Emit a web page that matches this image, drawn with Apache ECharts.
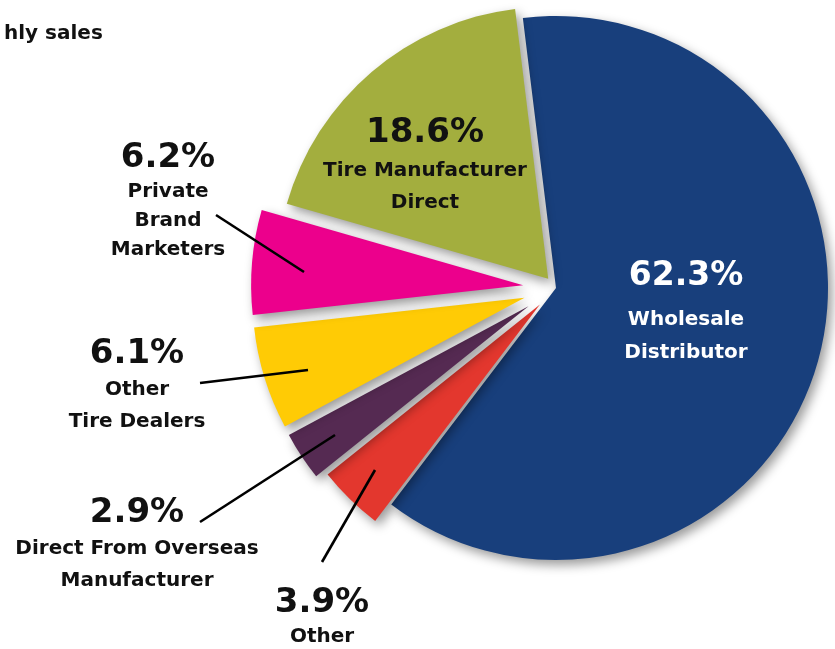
<!DOCTYPE html>
<html>
<head>
<meta charset="utf-8">
<title>Monthly sales by channel</title>
<script src="https://cdn.jsdelivr.net/npm/echarts@6/dist/echarts.min.js"></script>
<style>
  html, body { margin: 0; padding: 0; background: #ffffff; }
  #chart { width: 835px; height: 649px; }
</style>
</head>
<body>
<div id="chart"></div>
<script>
// Channel shares (percent of monthly sales), clockwise from 12 o'clock
const categories = [
  'Wholesale\nDistributor',
  'Other',
  'Direct From Overseas\nManufacturer',
  'Other\nTire Dealers',
  'Private\nBrand\nMarketers',
  'Tire Manufacturer\nDirect'
];
const shares = [62.3, 3.9, 2.9, 6.1, 6.2, 18.6];

// Slice colours
const colors = ['#183f7c', '#e3372e', '#552a52', '#ffcb05', '#ec008c', '#a3ae3e'];

// How far each wedge is pulled out from the centre (px)
const pullOut = [0, 23, 33, 33, 33, 12];

// Label placement: block centre x, top y, percent font size and line heights,
// plus the leader line (label end -> wedge end) for the outside labels
const labelBoxes = [
  { x: 686, y: 250, pSize: 33, pLH: 53, nLH: 33, color: '#ffffff' },
  { x: 322, y: 587, pSize: 34, pLH: 33, nLH: 33, color: '#111111', line: [322, 562, 375, 470] },
  { x: 137, y: 493, pSize: 34, pLH: 40, nLH: 32, color: '#111111', line: [200, 522, 335, 435] },
  { x: 137, y: 334, pSize: 34, pLH: 40, nLH: 32, color: '#111111', line: [200, 383, 308, 370] },
  { x: 168, y: 140, pSize: 34, pLH: 37, nLH: 29, color: '#111111', line: [216, 215, 304, 272] },
  { x: 425, y: 111, pSize: 34, pLH: 44, nLH: 32, color: '#111111' }
];

const FONT = '"DejaVu Sans", sans-serif';
const CENTER = [556, 288];
const RADIUS = 272;
const START_ANGLE = 97;

function labelRich(i) {
  const b = labelBoxes[i];
  return {
    p: { fontFamily: FONT, fontWeight: 'bold', fontSize: b.pSize, lineHeight: b.pLH, color: b.color, align: 'center' },
    n: { fontFamily: FONT, fontWeight: 'bold', fontSize: 20, lineHeight: b.nLH, color: b.color, align: 'center' }
  };
}

// Mid angle of each wedge, in ECharts degrees (counter-clockwise from 3 o'clock)
const total = shares.reduce(function (a, b) { return a + b; }, 0);
let cum = 0;
const midAngles = shares.map(function (v) {
  const mid = START_ANGLE - (cum + v / 2) / total * 360;
  cum += v;
  return mid;
});

// One pie layer per wedge, shifted outwards along the wedge's bisector;
// the other wedges of that layer stay invisible so angles line up.
const series = categories.map(function (_, k) {
  const rad = midAngles[k] * Math.PI / 180;
  const center = [CENTER[0] + Math.cos(rad) * pullOut[k], CENTER[1] - Math.sin(rad) * pullOut[k]];
  const data = categories.map(function (name, i) {
    const item = { name: name, value: shares[i] };
    if (i === k) {
      item.itemStyle = {
        color: colors[i],
        shadowColor: 'rgba(0,0,0,0.4)',
        shadowBlur: 11,
        shadowOffsetX: 4,
        shadowOffsetY: 5
      };
      item.label = { show: true, rich: labelRich(i) };
    } else {
      item.itemStyle = { color: 'rgba(0,0,0,0)', shadowColor: 'rgba(0,0,0,0)' };
      item.label = { show: false };
    }
    return item;
  });
  return {
    type: 'pie',
    center: center,
    radius: [0, RADIUS],
    startAngle: START_ANGLE,
    clockwise: true,
    silent: true,
    avoidLabelOverlap: false,
    animation: false,
    label: {
      show: true,
      position: 'outside',
      formatter: function (p) {
        const lines = p.name.split('\n').map(function (s) { return '{n|' + s + '}'; });
        return '{p|' + p.value.toFixed(1) + '%}\n' + lines.join('\n');
      }
    },
    labelLine: { show: false },
    labelLayout: function (params) {
      const b = labelBoxes[params.dataIndex];
      return { x: b.x, y: b.y, align: 'center', verticalAlign: 'top' };
    },
    data: data
  };
});

// Leader lines drawn above the wedges
const leaders = labelBoxes.filter(function (b) { return b.line; }).map(function (b) {
  return {
    type: 'line',
    z: 100,
    silent: true,
    shape: { x1: b.line[0], y1: b.line[1], x2: b.line[2], y2: b.line[3] },
    style: { stroke: '#000000', lineWidth: 2.6 }
  };
});

const chart = echarts.init(document.getElementById('chart'), null, { renderer: 'canvas' });
chart.setOption({
  backgroundColor: '#ffffff',
  animation: false,
  title: {
    text: 'hly sales',
    left: -1,
    top: 19,
    textStyle: { fontFamily: FONT, fontWeight: 'bold', fontSize: 20, color: '#111111' }
  },
  graphic: leaders,
  series: series
});
</script>
</body>
</html>
